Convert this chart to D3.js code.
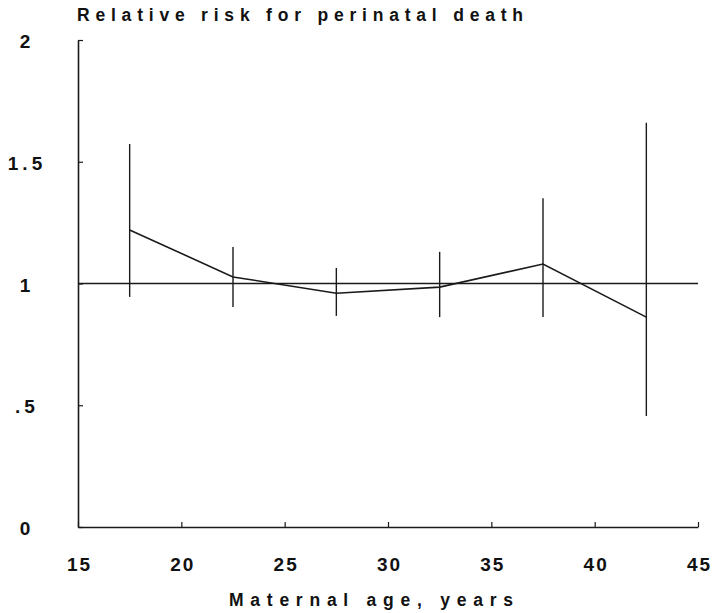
<!DOCTYPE html>
<html>
<head>
<meta charset="utf-8">
<script src="https://cdnjs.cloudflare.com/ajax/libs/d3/7.8.5/d3.min.js"></script>
<style>
body { margin: 0; background: #fff; }
text { font-family: "Liberation Sans", Arial, sans-serif; font-weight: bold; fill: #111; }
</style>
</head>
<body>
<div></div>
<script>
var ages = [17.5, 22.5, 27.5, 32.5, 37.5, 42.5];
var rr = [1.22, 1.027, 0.96, 0.985, 1.08, 0.862];
var lower = [0.945, 0.903, 0.867, 0.862, 0.862, 0.456];
var upper = [1.573, 1.15, 1.064, 1.13, 1.35, 1.66];
var xTicks = [15, 20, 25, 30, 35, 40, 45];
var yTicks = [0, 0.5, 1, 1.5, 2];
var yLabels = ['0', '.5', '1', '1.5', '2'];

var width = 713;
var height = 613;

var svg = d3.select('div')
    .append('svg')
    .attr('width', width)
    .attr('height', height);

// escalas
var xscale = d3.scaleLinear().domain([15, 45]).range([78, 698]);
var yscale = d3.scaleLinear().domain([0, 2]).range([527, 40]);

var ink = '#1a1a1a';

// eje X
var xaxis = d3.axisBottom(xscale)
    .tickValues(xTicks)
    .tickFormat(d3.format('d'))
    .tickSizeInner(-5)
    .tickSizeOuter(0)
    .tickPadding(31);

var gx = svg.append('g')
    .attr('transform', 'translate(0,' + yscale(0) + ')')
    .call(xaxis);
gx.select('.domain').attr('stroke', ink).attr('stroke-width', 1.6);
gx.selectAll('.tick line').attr('stroke', ink).attr('stroke-width', 1.2);
gx.selectAll('.tick text')
    .attr('font-size', 19)
    .attr('font-family', null)
    .style('letter-spacing', '2px')
    .attr('dx', '1px')
    .attr('fill', ink);

// eje Y
var yaxis = d3.axisLeft(yscale)
    .tickValues(yTicks)
    .tickFormat(function(d, i) { return yLabels[i]; })
    .tickSizeInner(-5)
    .tickSizeOuter(0);

var gy = svg.append('g')
    .attr('transform', 'translate(' + xscale(15) + ',0)')
    .call(yaxis);
gy.select('.domain').attr('stroke', ink).attr('stroke-width', 1.6);
gy.selectAll('.tick line').attr('stroke', ink).attr('stroke-width', 1.2);
gy.selectAll('.tick text')
    .attr('font-size', 19)
    .attr('font-family', null)
    .attr('text-anchor', 'middle')
    .attr('x', -51)
    .attr('dy', '0.4em')
    .style('letter-spacing', '4px')
    .attr('fill', ink);

// linea de referencia en 1
svg.append('line')
    .attr('x1', xscale(15))
    .attr('x2', xscale(45))
    .attr('y1', yscale(1))
    .attr('y2', yscale(1))
    .attr('stroke', ink)
    .attr('stroke-width', 1.4);

// barras de error
svg.selectAll('.err')
    .data(ages)
    .enter()
    .append('line')
    .attr('class', 'err')
    .attr('x1', d => xscale(d))
    .attr('x2', d => xscale(d))
    .attr('y1', (d, i) => yscale(upper[i]))
    .attr('y2', (d, i) => yscale(lower[i]))
    .attr('stroke', ink)
    .attr('stroke-width', 1.4);

// linea del riesgo relativo
var line = d3.line()
    .x(d => xscale(d))
    .y((d, i) => yscale(rr[i]));

svg.append('path')
    .datum(ages)
    .attr('d', line)
    .attr('fill', 'none')
    .attr('stroke', ink)
    .attr('stroke-width', 1.6);

// titulos
svg.append('text')
    .attr('x', 77)
    .attr('y', 21)
    .attr('font-size', 17.5)
    .attr('textLength', 446)
    .attr('lengthAdjust', 'spacing')
    .text('Relative risk for perinatal death');

svg.append('text')
    .attr('x', 229)
    .attr('y', 606)
    .attr('font-size', 17.5)
    .attr('textLength', 284)
    .attr('lengthAdjust', 'spacing')
    .text('Maternal age, years');
</script>
</body>
</html>
